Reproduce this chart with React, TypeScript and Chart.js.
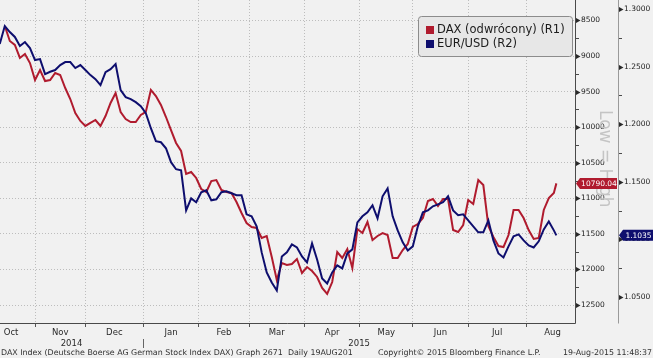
import { useEffect, useRef } from 'react';
import { Chart, registerables } from 'chart.js';

Chart.register(...registerables);

// ---- data (x = weekday index counted from Mon 13-Oct-2014) ----
const dayIndex = [
  1, 3, 5, 7, 9, 11, 13, 15, 17, 19,
  21, 23, 25, 27, 29, 31, 33, 35, 37, 39,
  41, 43, 45, 47, 49, 51, 53, 55, 57, 59,
  61, 63, 65, 67, 69, 71, 73, 75, 77, 79,
  81, 83, 85, 87, 89, 91, 93, 95, 97, 99,
  101, 103, 105, 107, 109, 111, 113, 115, 117, 119,
  121, 123, 125, 127, 129, 131, 133, 135, 137, 139,
  141, 143, 145, 147, 149, 151, 153, 155, 157, 159,
  161, 163, 165, 167, 169, 171, 173, 175, 177, 179,
  181, 183, 185, 187, 189, 191, 193, 195, 197, 199,
  201, 203, 205, 207, 209, 211, 213, 215, 217, 219,
  221, 222,
];

const daxInverted: (number | null)[] = [
  null, 8577, 8788, 8844, 9027, 8971, 9098, 9337, 9196, 9351,
  9337, 9238, 9266, 9449, 9604, 9801, 9913, 9983, 9941, 9899,
  9983, 9843, 9660, 9519, 9786, 9885, 9927, 9927, 9829, 9786,
  9477, 9562, 9688, 9857, 10040, 10222, 10335, 10658, 10630, 10714,
  10869, 10911, 10757, 10743, 10883, 10911, 10925, 11052, 11207, 11347,
  11403, 11417, 11558, 11530, 11825, 12149, 11910, 11938, 11924, 11853,
  12050, 11966, 12022, 12106, 12261, 12345, 12177, 11755, 11839, 11713,
  11980, 11432, 11488, 11333, 11586, 11530, 11488, 11516, 11839, 11839,
  11727, 11642, 11403, 11361, 11277, 11038, 11010, 11108, 11010, 11010,
  11446, 11474, 11375, 11024, 11080, 10743, 10813, 11389, 11544, 11671,
  11685, 11516, 11164, 11164, 11277, 11446, 11572, 11558, 11164, 10996,
  10925, 10790.04,
];

const eurUsd = [
  1.2696, 1.2852, 1.28, 1.2757, 1.2678, 1.2713, 1.2661, 1.2557, 1.2565, 1.2435,
  1.2455, 1.247, 1.2513, 1.2539, 1.2539, 1.2487, 1.2513, 1.247, 1.2426, 1.2391,
  1.2339, 1.2452, 1.2478, 1.2522, 1.2296, 1.2235, 1.2217, 1.2191, 1.2156, 1.2096,
  1.1965, 1.1852, 1.1843, 1.1791, 1.167, 1.1609, 1.16, 1.1252, 1.1356, 1.1322,
  1.1409, 1.1426, 1.1339, 1.1348, 1.1409, 1.1417, 1.14, 1.1383, 1.1383, 1.1217,
  1.12, 1.1113, 1.0887, 1.0713, 1.0626, 1.0556, 1.0852, 1.0887, 1.0956, 1.093,
  1.0852, 1.08, 1.0965, 1.0826, 1.0661, 1.0617, 1.0713, 1.0774, 1.0748, 1.0878,
  1.0913, 1.1148, 1.12, 1.1235, 1.1296, 1.1183, 1.1374, 1.1443, 1.12, 1.1078,
  1.0974, 1.0904, 1.0939, 1.1113, 1.1235, 1.1252, 1.1287, 1.1304, 1.1322, 1.1374,
  1.1252, 1.1209, 1.1217, 1.1165, 1.1113, 1.1061, 1.1061, 1.1165, 1.0991, 1.0878,
  1.0843, 1.0939, 1.1026, 1.1043, 1.0991, 1.0948, 1.093, 1.0983, 1.1087, 1.1156,
  1.1078, 1.1035,
];

const monthNames = ['Oct', 'Nov', 'Dec', 'Jan', 'Feb', 'Mar', 'Apr', 'May', 'Jun', 'Jul', 'Aug'];
const monthLabelAt = [5.5, 25, 46.5, 69, 90, 111, 133, 154.5, 176, 198.5, 220.5];
const monthStarts = [15, 35, 58, 80, 100, 122, 144, 165, 187, 210];
const yearLabels = ['2014', '2015'];
const yearLabelAt = [29.5, 143.7];
const yearBreakAt = 58;

const daxTicks = [8500, 8750, 9000, 9250, 9500, 9750, 10000, 10250, 10500, 10750, 11000, 11250, 11500, 11750, 12000, 12250, 12500];
const fxTicks = [1.05, 1.075, 1.1, 1.125, 1.15, 1.175, 1.2, 1.225, 1.25, 1.275, 1.3];

const seriesLabels = ['DAX (odwrócony) (R1)', 'EUR/USD (R2)'];
const footerLeft = 'DAX Index (Deutsche Boerse AG German Stock Index DAX) Graph 2671  Daily 19AUG201';
const footerMid = 'Copyright\u00A9 2015 Bloomberg Finance L.P.';
const footerRight = '19-Aug-2015 11:48:37';
const watermark = 'Low = High';

// ---- styles ----
const FONT = '"DejaVu Sans", Verdana, sans-serif';
const RED = '#b01b2e';
const NAVY = '#0e0e6e';
const BG = '#f1f1f1';
const GRID = '#bdbdbd';
const NONE = 'rgba(0,0,0,0)';

type XTick = { value: number; label: string | string[]; start: boolean };
const xTickDefs: XTick[] = [
  ...monthStarts.map((v) => ({ value: v, label: v === yearBreakAt ? ['', '|'] : '', start: true })),
  ...monthLabelAt.map((v, i) => ({ value: v, label: monthNames[i], start: false })),
  ...yearLabelAt.map((v, i) => ({ value: v, label: ['', yearLabels[i]], start: false })),
].sort((a, b) => a.value - b.value);

const isDaxMajor = (v: number) => Math.abs(v % 500) < 1e-6;
const isFxMajor = (v: number) => Math.abs(Math.round(v * 20) - v * 20) < 1e-6;

const decorPlugin = {
  id: 'decor',
  beforeDraw(chart: any) {
    const { ctx, width, height } = chart;
    ctx.save();
    ctx.fillStyle = BG;
    ctx.fillRect(0, 0, width, height);
    ctx.restore();
  },
  afterDraw(chart: any) {
    const { ctx, chartArea: ca } = chart;
    const r1 = chart.scales.yDax;
    const r2 = chart.scales.yFx;
    ctx.save();

    // axis lines
    ctx.lineWidth = 1;
    ctx.strokeStyle = '#4a4a4a';
    ctx.beginPath();
    ctx.moveTo(ca.left, ca.bottom + 0.5);
    ctx.lineTo(ca.right + 0.5, ca.bottom + 0.5);
    ctx.moveTo(ca.right + 0.5, 0);
    ctx.lineTo(ca.right + 0.5, ca.bottom + 0.5);
    ctx.stroke();
    ctx.strokeStyle = '#9a9a9a';
    ctx.beginPath();
    ctx.moveTo(r2.left + 0.5, 0);
    ctx.lineTo(r2.left + 0.5, ca.bottom + 0.5);
    ctx.stroke();

    // right-axis tick marks
    const marks = (scale: any, x0: number, major: (v: number) => boolean) => {
      scale.ticks.forEach((t: any) => {
        const y = Math.round(scale.getPixelForValue(t.value)) + 0.5;
        if (major(t.value)) {
          ctx.fillStyle = '#2a2a2a';
          ctx.beginPath();
          ctx.moveTo(x0, y - 2.5);
          ctx.lineTo(x0 + 4.5, y);
          ctx.lineTo(x0, y + 2.5);
          ctx.closePath();
          ctx.fill();
        } else {
          ctx.strokeStyle = '#4a4a4a';
          ctx.beginPath();
          ctx.moveTo(x0, y);
          ctx.lineTo(x0 + 3, y);
          ctx.stroke();
        }
      });
    };
    marks(r1, ca.right + 1, isDaxMajor);
    marks(r2, r2.left + 1, isFxMajor);

    // watermark
    ctx.save();
    ctx.translate(r1.left + 25, 110);
    ctx.rotate(Math.PI / 2);
    ctx.font = `17px ${FONT}`;
    ctx.fillStyle = '#c4c4c4';
    ctx.textAlign = 'left';
    ctx.textBaseline = 'alphabetic';
    ctx.fillText(watermark, 0, 0);
    ctx.restore();

    // legend
    const lx = 418.5, ly = 16.5, lw = 154, lh = 40;
    ctx.beginPath();
    ctx.roundRect(lx, ly, lw, lh, 3);
    ctx.fillStyle = '#e7e7e7';
    ctx.fill();
    ctx.strokeStyle = '#8c8c8c';
    ctx.stroke();
    ctx.font = `11.5px ${FONT}`;
    ctx.textAlign = 'left';
    ctx.textBaseline = 'middle';
    chart.data.datasets.forEach((ds: any, i: number) => {
      const y = 30 + i * 14;
      ctx.fillStyle = ds.borderColor;
      ctx.fillRect(426, y - 4, 8, 8);
      ctx.fillStyle = '#1c1c1c';
      ctx.fillText(ds.label, 437, y + 0.5);
    });

    // last-value flags
    const flag = (xTip: number, y: number, right: number, text: string, color: string) => {
      const h = 11;
      const x1 = xTip + 4;
      ctx.fillStyle = color;
      ctx.beginPath();
      ctx.moveTo(xTip, y);
      ctx.lineTo(x1, y - h / 2);
      ctx.lineTo(right, y - h / 2);
      ctx.lineTo(right, y + h / 2);
      ctx.lineTo(x1, y + h / 2);
      ctx.closePath();
      ctx.fill();
      ctx.font = `7.5px ${FONT}`;
      ctx.fillStyle = '#ffffff';
      ctx.textAlign = 'center';
      ctx.textBaseline = 'middle';
      ctx.fillText(text, (x1 + right) / 2 + 0.5, y + 0.5);
    };
    const lastDax = daxInverted[daxInverted.length - 1] as number;
    const lastFx = eurUsd[eurUsd.length - 1];
    flag(ca.right + 1, r1.getPixelForValue(lastDax), r2.left - 1, lastDax.toFixed(2), RED);
    flag(r2.left + 1, r2.getPixelForValue(lastFx), chart.width, lastFx.toFixed(4), NAVY);

    // footer
    ctx.font = `7.9px ${FONT}`;
    ctx.fillStyle = '#303030';
    ctx.textBaseline = 'middle';
    ctx.textAlign = 'left';
    ctx.fillText(footerLeft, 1, 352.5);
    ctx.fillText(footerMid, 378, 352.5);
    ctx.textAlign = 'right';
    ctx.fillText(footerRight, chart.width - 1, 352.5);

    ctx.restore();
  },
};

export default function App() {
  const ref = useRef<HTMLCanvasElement>(null);

  useEffect(() => {
    const canvas = ref.current;
    if (!canvas) return;
    const chart = new Chart(canvas, {
      type: 'line',
      data: {
        datasets: [
          {
            label: seriesLabels[0],
            data: dayIndex.map((x, i) => ({ x, y: daxInverted[i] })),
            yAxisID: 'yDax',
            borderColor: RED,
            backgroundColor: RED,
            borderWidth: 2,
            pointRadius: 0,
            tension: 0,
            order: 2,
          },
          {
            label: seriesLabels[1],
            data: dayIndex.map((x, i) => ({ x, y: eurUsd[i] })),
            yAxisID: 'yFx',
            borderColor: NAVY,
            backgroundColor: NAVY,
            borderWidth: 2,
            pointRadius: 0,
            tension: 0,
            order: 1,
          },
        ],
      } as any,
      options: {
        animation: false,
        responsive: false,
        maintainAspectRatio: false,
        devicePixelRatio: 1,
        layout: { padding: 0 },
        events: [],
        plugins: { legend: { display: false }, tooltip: { enabled: false } },
        scales: {
          x: {
            type: 'linear',
            min: 1.1,
            max: 229.4,
            bounds: 'data',
            afterBuildTicks: (s: any) => {
              s.ticks = xTickDefs.map((d) => ({ value: d.value }));
            },
            afterFit: (s: any) => {
              s.height = 35;
              s.paddingLeft = 0;
              s.paddingRight = 0;
            },
            ticks: {
              autoSkip: false,
              maxRotation: 0,
              minRotation: 0,
              padding: 1,
              color: '#2a2a2a',
              font: { family: FONT, size: 8.5, lineHeight: 1.2 },
              callback: (_v: any, i: number) => xTickDefs[i]?.label ?? '',
            },
            grid: {
              color: (c: any) => (xTickDefs[c.index]?.start ? GRID : NONE),
              tickColor: (c: any) => (xTickDefs[c.index]?.start ? '#555555' : NONE),
              tickLength: 4,
              drawTicks: true,
              lineWidth: 1,
            },
            border: { display: false, dash: [1, 2] },
          },
          yDax: {
            type: 'linear',
            position: 'right',
            reverse: true,
            min: 8212,
            max: 12753,
            bounds: 'data',
            afterBuildTicks: (s: any) => {
              s.ticks = daxTicks.map((v) => ({ value: v }));
            },
            afterFit: (s: any) => {
              s.width = 43;
              s.paddingTop = 0;
              s.paddingBottom = 0;
            },
            ticks: {
              autoSkip: false,
              padding: 6,
              color: '#222222',
              font: { family: FONT, size: 7.5 },
              callback: (v: any) => (isDaxMajor(Number(v)) ? String(v) : ''),
            },
            grid: {
              color: (c: any) => (c.tick && isDaxMajor(c.tick.value) ? GRID : NONE),
              drawTicks: false,
              lineWidth: 1,
            },
            border: { display: false, dash: [1, 2] },
          },
          yFx: {
            type: 'linear',
            position: 'right',
            min: 1.0274,
            max: 1.3078,
            bounds: 'data',
            afterBuildTicks: (s: any) => {
              s.ticks = fxTicks.map((v) => ({ value: v }));
            },
            afterFit: (s: any) => {
              s.width = 35;
              s.paddingTop = 0;
              s.paddingBottom = 0;
            },
            ticks: {
              autoSkip: false,
              padding: 6,
              color: '#222222',
              font: { family: FONT, size: 7.5 },
              callback: (v: any) => (isFxMajor(Number(v)) ? Number(v).toFixed(4) : ''),
            },
            grid: { display: false, drawTicks: false },
            border: { display: false },
          },
        },
      } as any,
      plugins: [decorPlugin],
    });
    return () => chart.destroy();
  }, []);

  return (
    <div style={{ position: 'fixed', left: 0, top: 0, width: 653, height: 358 }}>
      <canvas ref={ref} width={653} height={358} style={{ display: 'block', width: 653, height: 358 }} />
    </div>
  );
}
